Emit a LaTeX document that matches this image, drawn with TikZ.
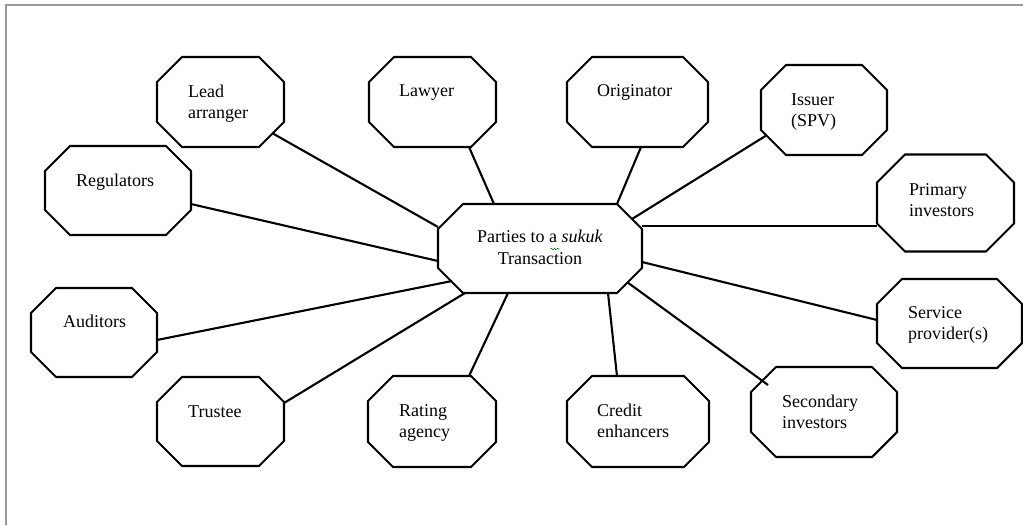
\documentclass[tikz,border=0pt]{standalone}
\usepackage{fontspec}
\setmainfont{Liberation Serif}
\usetikzlibrary{calc,decorations.pathmorphing}
\tikzset{
  box/.style={rectangle, draw=none, inner sep=0pt, outer sep=0pt},
  octline/.style={draw=black, line width=2.1pt, fill=white, line join=miter},
  lbl/.style={anchor=base west, align=left, inner sep=0pt, font=\fontsize{18}{21.5}\selectfont},
  link/.style={draw=black, line width=2.1pt},
  frame/.style={draw=black!40, line width=1.6pt}
}
\newcommand\octa[2][25]{%
  \draw[octline] ($(#2.north west)+(#1,0)$) -- ($(#2.north east)+(-#1,0)$)
    -- ($(#2.north east)+(0,#1)$) -- ($(#2.south east)+(0,-#1)$)
    -- ($(#2.south east)+(-#1,0)$) -- ($(#2.south west)+(#1,0)$)
    -- ($(#2.south west)+(0,-#1)$) -- ($(#2.north west)+(0,#1)$) -- cycle;}
\begin{document}
\begin{tikzpicture}[x=1pt,y=-1pt]
\useasboundingbox (0,0) rectangle (1023,525);
\fill[white] (0,0) rectangle (1023,525);
\draw[frame] (6,525) -- (6,5) -- (1023,5);

\node[box, minimum width=127pt, minimum height=90pt] (lead)    at (220.5,102) {};
\node[box, minimum width=127pt, minimum height=90pt] (lawyer)  at (432.5,102) {};
\node[box, minimum width=141pt, minimum height=90pt] (orig)    at (637.5,102) {};
\node[box, minimum width=126pt, minimum height=90pt] (issuer)  at (824,110) {};
\node[box, minimum width=137pt, minimum height=97pt] (primary) at (945.5,203) {};
\node[box, minimum width=146pt, minimum height=89pt] (regul)   at (118,190.5) {};
\node[box, minimum width=204pt, minimum height=89pt] (center)  at (540,248.5) {};
\node[box, minimum width=126pt, minimum height=89pt] (audit)   at (94,332.5) {};
\node[box, minimum width=145pt, minimum height=89pt] (service) at (949.5,323.5) {};
\node[box, minimum width=127pt, minimum height=89pt] (trustee) at (220.5,421.5) {};
\node[box, minimum width=128pt, minimum height=91pt] (rating)  at (432,421.5) {};
\node[box, minimum width=142pt, minimum height=91pt] (credit)  at (638,421.5) {};
\node[box, minimum width=146pt, minimum height=90pt] (second)  at (824,412) {};

\octa{lead}\octa{lawyer}\octa{orig}\octa{issuer}\octa[28]{primary}\octa{regul}
\octa{center}\octa{audit}\octa{service}\octa{trustee}\octa{rating}\octa{credit}\octa{second}

\draw[link] ($(lead)+(51.5,31)$)     -- ($(center)+(-102,-21.5)$);
\draw[link] ($(regul)+(73,13.5)$)    -- ($(center)+(-102,12.5)$);
\draw[link] ($(audit)+(63,7.5)$)     -- ($(center)+(-88,32.5)$);
\draw[link] ($(trustee)+(63.5,-18.5)$) -- ($(center)+(-75,44.5)$);
\draw[link] ($(rating)+(37,-45.5)$)  -- ($(center)+(-32,44.5)$);
\draw[link] ($(credit)+(-21,-45.5)$) -- ($(center)+(68,44.5)$);
\draw[link] ($(second)+(-56,-27)$)   -- ($(center)+(87,33.5)$);
\draw[link] ($(service)+(-72.5,-3.5)$) -- ($(center)+(102,13.5)$);
\draw[link] ($(primary)+(-68.5,23)$) -- ($(center)+(102,-22.5)$);
\draw[link] ($(issuer)+(-57,25)$)    -- ($(center)+(92,-29.5)$);
\draw[link] ($(orig)+(3.5,45)$)      -- ($(center)+(77,-44.5)$);
\draw[link] ($(lawyer)+(36.5,45)$)   -- ($(center)+(-46,-44.5)$);

% labels (base = baseline of last line)
\node[lbl] (leadT)    at (188,118.5) {Lead\\arranger};
\node[lbl] (lawyerT)  at (399,96)    {Lawyer};
\node[lbl] (origT)    at (597,96)    {Originator};
\node[lbl] (issuerT)  at (791,126.5) {Issuer\\(SPV)};
\node[lbl] (primaryT) at (909,216.5) {Primary\\investors};
\node[lbl] (regulT)   at (76,186)    {Regulators};
\node[lbl] (auditT)   at (63,327)    {Auditors};
\node[lbl] (serviceT) at (908,339.5) {Service\\provider(s)};
\node[lbl] (trusteeT) at (188,417)   {Trustee};
\node[lbl] (ratingT)  at (399,437.5) {Rating\\agency};
\node[lbl] (creditT)  at (597,437.5) {Credit\\enhancers};
\node[lbl] (secondT)  at (782,428.5) {Secondary\\investors};
\node[lbl, anchor=base, align=center] (centerT) at (540,264) {Parties to a \textit{sukuk}\\Transaction};
\draw[green!55!black, line width=0.6pt, decorate, decoration={snake, amplitude=0.8pt, segment length=3pt}] (550.5,249) -- (559.5,249);
\end{tikzpicture}
\end{document}
